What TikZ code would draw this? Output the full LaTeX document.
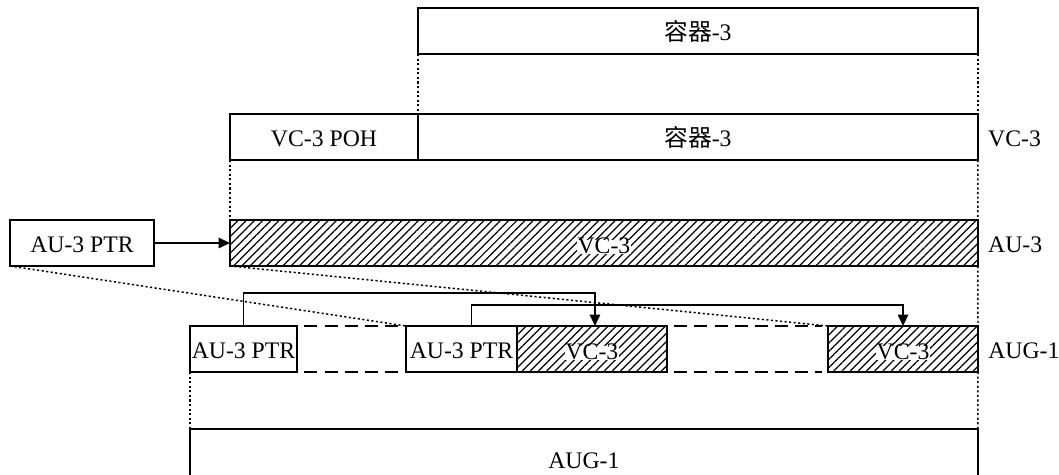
\documentclass[tikz,border=0pt]{standalone}
\usepackage{fontspec}
\setmainfont{Liberation Serif}
\newfontfamily\cjk{Noto Sans CJK SC}
\usepackage{tikz}
\usetikzlibrary{arrows.meta,positioning,patterns.meta}
\tikzset{>={Triangle[length=6.5pt,width=6pt]}}

\begin{document}
\begin{tikzpicture}[
    x=0.02cm, y=-0.02cm,
    every node/.style={font=\fontsize{13.5}{16}\selectfont,
        text height=1.05em, text depth=0pt},
    box/.style={rectangle, draw, line width=0.8pt, minimum height=0.92cm,
        inner sep=0pt, outer sep=0pt},
    hatch/.style={box, pattern={Lines[angle=45,distance=3.3pt,line width=0.7pt]}},
    vctext/.style={fill=white, inner sep=0.6pt, text height=0.7em, yshift=-0.08cm},
    side/.style={inner sep=0pt},
    guide/.style={line width=0.85pt, dash pattern=on 1.2pt off 1.4pt},
    gapline/.style={line width=0.8pt, dash pattern=on 7.4pt off 4pt,
        shorten <=0.15cm, shorten >=0.13cm},
    conn/.style={line width=0.75pt}
]
    \useasboundingbox (0,0) rectangle (1059,475);
    \clip (0,0) rectangle (1059,475);

    % VC-3 row and container
    \node[box, minimum width=3.76cm, anchor=west] (poh) at (230,137) {VC-3 POH};
    \node[box, minimum width=11.2cm, right=0pt of poh] (c3) {{\cjk 容器}-3};
    \node[box, minimum width=11.2cm, above=1.2cm of c3] (c3top) {{\cjk 容器}-3};
    \node[side, right=0.2cm of c3] (lvc) {VC-3};

    % AU-3 row
    \node[hatch, minimum width=14.96cm, anchor=west,
        label={[vctext]center:VC-3}] (au3) at (230,243) {};
    \node[box, minimum width=2.88cm, anchor=west] (ptr) at (10,243) {AU-3 PTR};
    \node[side, right=0.2cm of au3] (lau) {AU-3};

    % AUG-1 row
    \node[box, minimum width=2.14cm, anchor=west] (ptr1) at (190,349) {AU-3 PTR};
    \node[box, minimum width=2.22cm, anchor=west] (ptr2) at (406,349) {AU-3 PTR};
    \node[hatch, minimum width=3cm, right=0pt of ptr2,
        label={[vctext]center:VC-3}] (vca) {};
    \node[hatch, minimum width=3cm, anchor=east,
        label={[vctext]center:VC-3}] (vcb) at (978,349) {};
    \node[side, right=0.2cm of vcb] (laug) {AUG-1};

    \node[box, minimum width=15.76cm, minimum height=1.2cm, anchor=north west]
        (aug) at (190,429) {AUG-1};

    % projection guides
    \draw[guide] (c3top.south west) -- (c3.north west);
    \draw[guide] (c3top.south east) -- (c3.north east);
    \draw[guide] (poh.south west) -- (au3.north west);
    \draw[guide] (c3.south east) -- (au3.north east);
    \draw[guide] (au3.south east) -- (vcb.north east);
    \draw[guide] (ptr1.south west) -- (aug.north west);
    \draw[guide] (vcb.south east) -- (aug.north east);
    \draw[guide] (ptr.south west) -- (ptr2.north west);
    \draw[guide] (au3.south west) -- (vcb.north west);

    % gaps in AUG-1
    \draw[gapline] (ptr1.north east) -- (ptr2.north west);
    \draw[gapline] (ptr1.south east) -- (ptr2.south west);
    \draw[gapline] (vca.north east) -- (vcb.north west);
    \draw[gapline] (vca.south east) -- (vcb.south west);

    % pointers
    \draw[conn, ->] (ptr) -- (au3);
    \draw[conn, ->] (ptr1.north) -- ++(0,-33) -| ([xshift=0.06cm]vca.north);
    \draw[conn, ->] ([xshift=0.2cm]ptr2.north) -- ++(0,-21) -| (vcb.north);
\end{tikzpicture}
\end{document}
